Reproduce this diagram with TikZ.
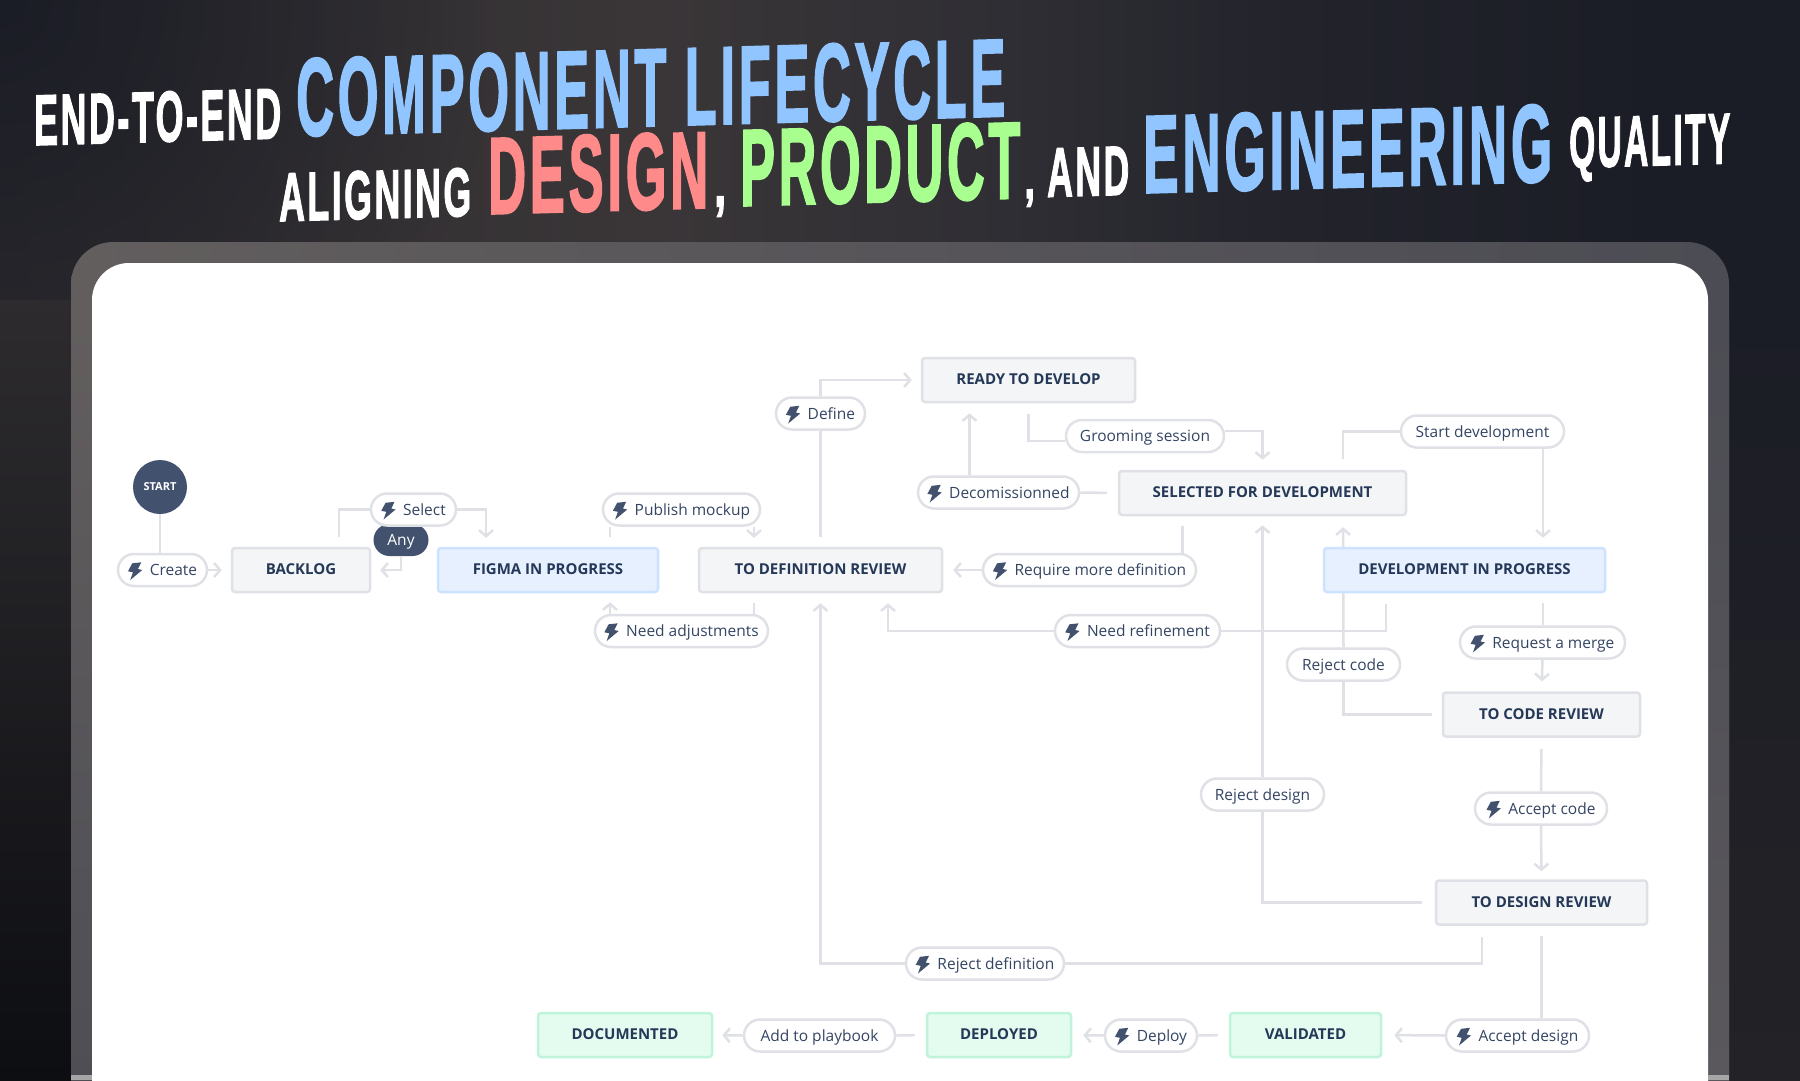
\documentclass[tikz,border=0pt]{standalone}
\usepackage{fontspec}
\usepackage{graphicx}
\usepackage{xcolor}
\usepackage{tikz}
\usetikzlibrary{arrows.meta, backgrounds, fadings}
\setmainfont{Open Sans}
\newfontfamily\titlefont[FakeBold=2.2, LetterSpace=7]{Liberation Sans}
\definecolor{lineGray}{HTML}{DFE1E6}
\definecolor{boxGray}{HTML}{F4F5F7}
\definecolor{inkDark}{HTML}{253858}
\definecolor{inkSoft}{HTML}{344563}
\definecolor{slateDark}{HTML}{42526E}
\definecolor{blueFill}{HTML}{E6F0FF}
\definecolor{blueEdge}{HTML}{CDE2FF}
\definecolor{greenFill}{HTML}{E3FCEF}
\definecolor{greenEdge}{HTML}{BFF3DA}
\definecolor{titleBlue}{HTML}{90C5FF}
\definecolor{titleRed}{HTML}{FF8A8A}
\definecolor{titleGreen}{HTML}{A8FF8F}
\definecolor{skyLeft}{HTML}{2D2B2E}
\definecolor{skyGlow}{HTML}{3A3638}
\definecolor{skyMid}{HTML}{2F2E34}
\definecolor{skyDusk}{HTML}{22232B}
\definecolor{nightBlue}{HTML}{1B1D26}
\definecolor{stripBlack}{HTML}{0D0E12}
\definecolor{stripDusk}{HTML}{232226}
\definecolor{frameWarm}{HTML}{625E5E}
\definecolor{frameCool}{HTML}{4C4C54}
\definecolor{frameLow}{HTML}{4E4E54}
\definecolor{frameHigh}{HTML}{5A585C}
\pgfdeclarehorizontalshading{skyshade}{100bp}{color(0bp)=(skyLeft); color(25bp)=(skyLeft); color(43bp)=(skyGlow); color(53bp)=(skyMid); color(61bp)=(skyDusk); color(71bp)=(nightBlue); color(100bp)=(nightBlue)}
\tikzfading[name=cornerfade, inner color=transparent!0, outer color=transparent!100]
\newcommand{\boltmark}{\tikz[x=1pt,y=1pt,baseline=4.3pt,sharp corners]\fill[slateDark] (4.3,16.7) -- (13.3,17.7) -- (10,11) -- (14.3,10) -- (2.3,0) -- (5,7.7) -- (0,8.7) -- cycle;\hspace{7.5pt}}
\tikzset{
    statebox/.style={draw=lineGray, fill=boxGray, line width=2.5pt, rounded corners=3pt, minimum height=44pt, inner sep=0pt, text height=10pt, text depth=1pt, text=inkDark, font=\fontsize{15}{18}\selectfont\bfseries},
    progressbox/.style={statebox, draw=blueEdge, fill=blueFill},
    donebox/.style={statebox, draw=greenEdge, fill=greenFill},
    pill/.style={draw=lineGray, fill=white, line width=2.5pt, rounded corners=16pt, minimum height=32pt, inner sep=0pt, text height=13pt, text depth=1.6pt, text=inkSoft, font=\fontsize{15.5}{18}\selectfont},
    titleword/.style={anchor=south west, inner sep=0pt, yslant=.028, transform shape, font=\titlefont\bfseries},
    flowline/.style={draw=lineGray, line width=2.5pt},
    flowarrow/.style={flowline, -{Straight Barb[length=6pt,width=14pt]}},
}
\begin{document}
\begin{tikzpicture}[x=1pt, y=-1pt]
    \useasboundingbox (0,0) rectangle (1800,1080);
    % backdrop and frame
    \begin{scope}[on background layer]
        \begin{scope}
            \clip (0,0) rectangle (1800,1080);
            \shade[shading=skyshade] (0,0) rectangle (1800,1080);
            \fill[nightBlue, path fading=cornerfade] (-500,-500) rectangle (500,500);
            \shade[top color=skyLeft, bottom color=stripBlack] (0,300) rectangle (71,1080);
            \shade[top color=nightBlue, bottom color=stripDusk] (1729,300) rectangle (1800,1080);
            \shade[left color=frameWarm, right color=frameCool, rounded corners=42pt] (71,1200) -- (71,242) -- (1729,242) -- (1729,1200) -- cycle;
            \shade[top color=frameWarm, bottom color=frameLow] (71,320) rectangle (92,1080);
            \shade[top color=frameCool, bottom color=frameHigh] (1708,320) rectangle (1729,1080);
            \fill[white, rounded corners=37pt] (92,1200) -- (92,263) -- (1708,263) -- (1708,1200) -- cycle;
            \fill[gray!70] (71,1075) rectangle (92,1080);
            \fill[gray!70] (1708,1075) rectangle (1729,1080);
        \end{scope}
    \end{scope}
    % headline words
    \node[titleword, text=white] (endtoend) at (34,146) {\resizebox{247pt}{50pt}{END-TO-END}};
    \node[titleword, text=titleBlue] (component) at (296,137) {\resizebox{709pt}{77pt}{COMPONENT LIFECYCLE}};
    \node[titleword, text=white] (aligning) at (279,222) {\resizebox{192pt}{48pt}{ALIGNING}};
    \node[titleword, text=titleRed] (design) at (488,215) {\resizebox{220pt}{76pt}{DESIGN}};
    \node[titleword, text=white] (commaone) at (714,217) {\resizebox*{12pt}{20pt}{,}};
    \node[titleword, text=titleGreen] (product) at (740,207) {\resizebox{280pt}{76pt}{PRODUCT}};
    \node[titleword, text=white] (commatwo) at (1024,207) {\resizebox*{11pt}{17pt}{,}};
    \node[titleword, text=white] (andword) at (1047,197) {\resizebox{82pt}{48pt}{AND}};
    \node[titleword, text=titleBlue] (engineering) at (1143,194) {\resizebox{409pt}{77pt}{ENGINEERING}};
    \node[titleword, text=white] (quality) at (1569,182) {\resizebox{161pt}{50pt}{QUALITY}};
    % states
    \node[circle, fill=slateDark, minimum size=54pt, inner sep=0pt, text=white, font=\fontsize{11}{13}\selectfont\bfseries] (start) at (160,487) {START};
    \node[statebox, minimum width=138pt] (backlog) at (301,570) {BACKLOG};
    \node[progressbox, minimum width=220pt] (figma) at (548,570) {FIGMA IN PROGRESS};
    \node[statebox, minimum width=243pt] (defreview) at (820.5,570) {TO DEFINITION REVIEW};
    \node[statebox, minimum width=213pt] (ready) at (1028.5,380) {READY TO DEVELOP};
    \node[statebox, minimum width=287pt] (selected) at (1262.5,493) {SELECTED FOR DEVELOPMENT};
    \node[progressbox, minimum width=281pt] (devprog) at (1464.5,570) {DEVELOPMENT IN PROGRESS};
    \node[statebox, minimum width=197pt] (codereview) at (1541.5,714.5) {TO CODE REVIEW};
    \node[statebox, minimum width=211pt] (designreview) at (1541.5,902.5) {TO DESIGN REVIEW};
    \node[donebox, minimum width=151pt] (validated) at (1305.5,1035) {VALIDATED};
    \node[donebox, minimum width=144pt] (deployed) at (999,1035) {DEPLOYED};
    \node[donebox, minimum width=174pt] (documented) at (625,1035) {DOCUMENTED};
    % transitions
    \node[pill, draw=none, fill=slateDark, text=white, minimum width=55pt, minimum height=32pt] (any) at (401,540) {Any};
    \node[pill, minimum width=89pt] (create) at (162.5,570) {\boltmark Create};
    \node[pill, minimum width=85pt] (select) at (413.5,509.5) {\boltmark Select};
    \node[pill, minimum width=157pt] (publish) at (681.5,509.5) {\boltmark Publish mockup};
    \node[pill, minimum width=173pt] (adjust) at (681.5,631) {\boltmark Need adjustments};
    \node[pill, minimum width=89pt] (define) at (820.5,413.5) {\boltmark Define};
    \node[pill, minimum width=158pt] (grooming) at (1145,436) {Grooming session};
    \node[pill, minimum width=161pt] (decom) at (998.5,492.5) {\boltmark Decomissionned};
    \node[pill, minimum width=213pt] (requiredef) at (1089.5,570) {\boltmark Require more definition};
    \node[pill, minimum width=165pt] (refine) at (1137.5,631) {\boltmark Need refinement};
    \node[pill, minimum width=163pt] (startdev) at (1482.5,431.5) {Start development};
    \node[pill, minimum width=113pt] (rejectcode) at (1343.5,664.5) {Reject code};
    \node[pill, minimum width=165pt] (merge) at (1542.5,642.5) {\boltmark Request a merge};
    \node[pill, minimum width=132pt] (acceptcode) at (1541,808.5) {\boltmark Accept code};
    \node[pill, minimum width=123pt] (rejectdesign) at (1262.5,794.5) {Reject design};
    \node[pill, minimum width=158pt] (rejectdef) at (985,963.5) {\boltmark Reject definition};
    \node[pill, minimum width=143pt] (acceptdesign) at (1517.5,1035.5) {\boltmark Accept design};
    \node[pill, minimum width=92pt] (deploy) at (1151,1035.5) {\boltmark Deploy};
    \node[pill, minimum width=151pt] (playbook) at (819.5,1035.5) {Add to playbook};
    % connectors
    \begin{scope}[on background layer]
        \draw[flowline] (start.south) -- (start.south |- create.north);
        \draw[flowarrow, shorten >=9pt] (create) -- (backlog);
        \draw[flowarrow, shorten >=9pt] (any.south) |- (backlog.east);
        \draw[flowline, shorten >=10pt] (select.west) -| ([xshift=38pt]backlog.north);
        \draw[flowarrow, shorten >=9pt] (select.east) -| ([xshift=-62pt]figma.north);
        \draw[flowline, shorten <=10pt] ([xshift=62pt]figma.north) -- ([xshift=62pt]figma.north |- publish.south);
        \draw[flowarrow, shorten >=9pt] ([xshift=-66.5pt]defreview.north |- publish.south) -- ([xshift=-66.5pt]defreview.north);
        \draw[flowarrow, shorten >=9pt] ([xshift=62pt]figma.south |- adjust.north) -- ([xshift=62pt]figma.south);
        \draw[flowline, shorten <=10pt] ([xshift=-66.5pt]defreview.south) -- ([xshift=-66.5pt]defreview.south |- adjust.north);
        \draw[flowline, shorten <=10pt] (defreview.north) -- (define.south);
        \draw[flowarrow, shorten >=9pt] (define.north) |- (ready.west);
        \draw[flowline, shorten <=11pt] (ready.south) |- ([yshift=-5pt]grooming.west);
        \draw[flowarrow, shorten >=10pt] ([yshift=5pt]grooming.east) -| (selected.north);
        \draw[flowline, shorten <=11pt] (selected.west) -- (decom.east);
        \draw[flowarrow, shorten >=10pt] ([xshift=-59pt]ready.south |- decom.north) -- ([xshift=-59pt]ready.south);
        \draw[flowline, shorten <=10pt] ([xshift=-80pt]selected.south) -- ([xshift=-80pt]selected.south |- requiredef.north);
        \draw[flowarrow, shorten >=10pt] (requiredef.west) -- (defreview.east);
        \draw[flowarrow, shorten >=10pt] (refine.west) -| ([xshift=67.5pt]defreview.south);
        \draw[flowline, shorten <=11pt] ([xshift=-78.5pt]devprog.south) |- (refine.east);
        \draw[flowline, shorten >=11pt] (startdev.west) -| ([xshift=80.5pt]selected.north);
        \draw[flowarrow, shorten >=9pt] ([xshift=78.5pt]devprog.north |- startdev.south) -- ([xshift=78.5pt]devprog.north);
        \draw[flowarrow, shorten >=11pt] (rejectcode.north) -- ([xshift=80.5pt]selected.south);
        \draw[flowline, shorten <=10pt] (codereview.west) -| (rejectcode.south);
        \draw[flowline, shorten <=10pt] ([xshift=78.5pt]devprog.south) -- ([xshift=78.5pt]devprog.south |- merge.north);
        \draw[flowarrow, shorten >=10pt] (merge.south) -- (codereview.north);
        \draw[flowline, shorten <=11pt] (codereview.south) -- (acceptcode.north);
        \draw[flowarrow, shorten >=8pt] (acceptcode.south) -- (designreview.north);
        \draw[flowline, shorten <=13pt] (designreview.west) -| (rejectdesign.south);
        \draw[flowarrow, shorten >=9pt] (rejectdesign.north) -- (selected.south);
        \draw[flowline, shorten <=11pt] ([xshift=-59.5pt]designreview.south) |- (rejectdef.east);
        \draw[flowarrow, shorten >=10pt] (rejectdef.west) -| (defreview.south);
        \draw[flowline, shorten <=10pt] (designreview.south) -- (designreview.south |- acceptdesign.north);
        \draw[flowarrow, shorten >=12pt] (acceptdesign.west) -- (validated.east);
        \draw[flowline, shorten <=11pt] (validated.west) -- (deploy.east);
        \draw[flowarrow, shorten >=11pt] (deploy.west) -- (deployed.east);
        \draw[flowline, shorten <=11pt] (deployed.west) -- (playbook.east);
        \draw[flowarrow, shorten >=9pt] (playbook.west) -- (documented.east);
    \end{scope}
\end{tikzpicture}
\end{document}
